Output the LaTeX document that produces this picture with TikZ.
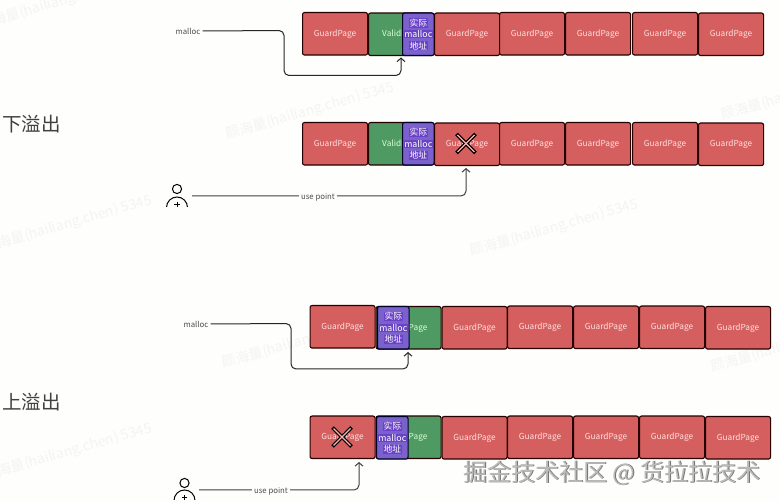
\documentclass[tikz,border=0pt]{standalone}
\usepackage{fontspec}
\setmainfont{Noto Sans CJK SC}
\usetikzlibrary{arrows.meta}
\definecolor{bgc}{HTML}{FEFEFC}
\definecolor{redc}{HTML}{D55F5E}
\definecolor{greenc}{HTML}{4F9A63}
\definecolor{purplec}{HTML}{7B61CC}
\definecolor{hlc}{HTML}{6A42C8}
\definecolor{wmc}{HTML}{F4F4F2}
\setlength{\fboxsep}{0.6pt}
\tikzset{
  x=1pt,y=-1pt,
  pagebox/.style={draw=black!85!red,line width=1.1pt,rounded corners=2pt,minimum width=#1,minimum height=42.5pt,inner sep=0pt,anchor=north west,text=white!88!red,font=\fontsize{8.3}{10}\selectfont},
  guardbox/.style={pagebox=65pt,fill=redc},
  validbox/.style={pagebox=65pt,fill=greenc,text=white!85!green},
  addrbox/.style={pagebox=31.5pt,fill=purplec,text=white,draw=black!85!blue,align=center,font=\fontsize{8.8}{11.4}\selectfont},
  conn/.style={draw=black!85,line width=1pt,rounded corners=5pt},
  connarrow/.style={conn,-{Straight Barb[length=3.5pt,width=8pt]}},
  lbl/.style={font=\fontsize{7.8}{9}\selectfont,text=black!70,inner sep=2pt,fill=bgc},
  title/.style={font=\fontsize{19.5}{21}\selectfont,text=black!75,inner sep=0pt,anchor=west},
  wm/.style={rotate=16,text=wmc,font=\fontsize{14}{16}\selectfont,inner sep=0pt},
  crossblack/.style={line width=3.6pt,draw=black},
  crossinner/.style={line width=1.1pt,draw=white!70!red},
  personline/.style={draw=black,line width=1pt},
  brand/.style={font=\fontsize{24}{26}\selectfont,inner sep=0pt,anchor=west},
}
\newcommand{\addrtext}{\colorbox{hlc}{实际}\\\colorbox{hlc}{malloc}\\\colorbox{hlc}{地址}}
\newcommand{\wmtext}{颜海量(hailiang.chen) 5345}
\begin{document}
\begin{tikzpicture}
\useasboundingbox (0,0) rectangle (780,502);
\fill[bgc] (0,0) rectangle (780,502);
% watermarks
\node[wm] (w1) at (63,1) {\wmtext};
\node[wm] (w2) at (310,111) {\wmtext};
\node[wm] (w3) at (554,228) {\wmtext};
\node[wm] (w4) at (68,224) {\wmtext};
\node[wm] (w5) at (306,340) {\wmtext};
\node[wm] (w6) at (68,452) {\wmtext};
\node[wm] (w7) at (795,344) {\wmtext};
\node[wm] (w8) at (805,92) {\wmtext};
% row 1
\node[guardbox] (a1) at (302,12) {GuardPage};
\node[validbox] (a2) at (368,12.5) {ValidPage};
\node[addrbox] (a3) at (402,12.5) {\addrtext};
\node[guardbox] (a4) at (434,12.5) {GuardPage};
\node[guardbox] (a5) at (499,12) {GuardPage};
\node[guardbox] (a6) at (565,12) {GuardPage};
\node[guardbox] (a7) at (632,12) {GuardPage};
\node[guardbox] (a8) at (698,12.5) {GuardPage};
% row 2
\node[guardbox] (b1) at (302,122) {GuardPage};
\node[validbox] (b2) at (368,122) {ValidPage};
\node[addrbox] (b3) at (402,122) {\addrtext};
\node[guardbox] (b4) at (434,122.5) {GuardPage};
\node[guardbox] (b5) at (499,122) {GuardPage};
\node[guardbox] (b6) at (565,122) {GuardPage};
\node[guardbox] (b7) at (632,122) {GuardPage};
\node[guardbox] (b8) at (698,122.5) {GuardPage};
% row 3
\node[guardbox] (c1) at (309.5,305) {GuardPage};
\node[validbox] (c2) at (375.5,306) {ValidPage};
\node[addrbox] (c3) at (377,306) {\addrtext};
\node[guardbox] (c4) at (441.5,306) {GuardPage};
\node[guardbox] (c5) at (507,305.5) {GuardPage};
\node[guardbox] (c6) at (573,305.5) {GuardPage};
\node[guardbox] (c7) at (639,305.5) {GuardPage};
\node[guardbox] (c8) at (705,306) {GuardPage};
% row 4
\node[guardbox] (d1) at (309.5,415.5) {GuardPage};
\node[validbox] (d2) at (375.5,415.5) {ValidPage};
\node[addrbox] (d3) at (376,416) {\addrtext};
\node[guardbox] (d4) at (441.5,416) {GuardPage};
\node[guardbox] (d5) at (507,415.5) {GuardPage};
\node[guardbox] (d6) at (573,415.5) {GuardPage};
\node[guardbox] (d7) at (639,415.5) {GuardPage};
\node[guardbox] (d8) at (705,416) {GuardPage};
% titles
\node[title] (t1) at (2,124) {下溢出};
\node[title] (t2) at (2,402) {上溢出};
% connectors
\node[lbl,fill=none] (m1) at (188,31) {malloc};
\coordinate (e1) at (401,57.5);
\draw[connarrow] (m1.east) -- (284,30.5) -- (284,75.5) -- (401,75.5) -- (e1);
\node[lbl,fill=none] (m2) at (196,324) {malloc};
\coordinate (e2) at (408,352);
\draw[connarrow] (m2.east) -- (291,323.5) -- (291,369) -- (408,369) -- (e2);
% persons
\begin{scope}
\clip (160,180) rectangle (195,207);
\draw[personline] (177,189) circle (4.6);
\draw[personline] (177,207.5) circle (10.5);
\draw[personline] (174.3,204.3) -- (179.7,204.3) (177,201.6) -- (177,207);
\end{scope}
\coordinate (p1) at (192,196);
\coordinate (e3) at (466,168);
\draw[connarrow,draw=black!75] (p1) -- (466,196) -- (e3);
\node[lbl] (u1) at (318,197) {use point};
\begin{scope}
\clip (168,474) rectangle (202,500);
\draw[personline] (184.5,483) circle (4.6);
\draw[personline] (184.5,500.5) circle (10.5);
\draw[personline] (181.8,497.6) -- (187.2,497.6) (184.5,494.9) -- (184.5,500);
\end{scope}
\coordinate (p2) at (199,490);
\coordinate (e4) at (359,462);
\draw[connarrow,draw=black!75] (p2) -- (359,490) -- (e4);
\node[lbl] (u2) at (271,491) {use point};
% crosses
\coordinate (x1) at (466,143.5);
\coordinate (x2) at (342,437);
\foreach \c in {x1,x2}{
  \draw[crossblack] ([shift={(-9.5,-9.5)}]\c) -- ([shift={(9.5,9.5)}]\c);
  \draw[crossblack] ([shift={(-9.5,9.5)}]\c) -- ([shift={(9.5,-9.5)}]\c);
  \draw[crossinner] ([shift={(-8.5,-8.5)}]\c) -- ([shift={(8.5,8.5)}]\c);
  \draw[crossinner] ([shift={(-8.5,8.5)}]\c) -- ([shift={(8.5,-8.5)}]\c);
}
% brand
\node[brand,text=black!55] (br0) at (463.8,473.8) {掘金技术社区 @ 货拉拉技术};
\node[brand,text=black!27] (br) at (463,473) {掘金技术社区 @ 货拉拉技术};
\end{tikzpicture}
\end{document}
